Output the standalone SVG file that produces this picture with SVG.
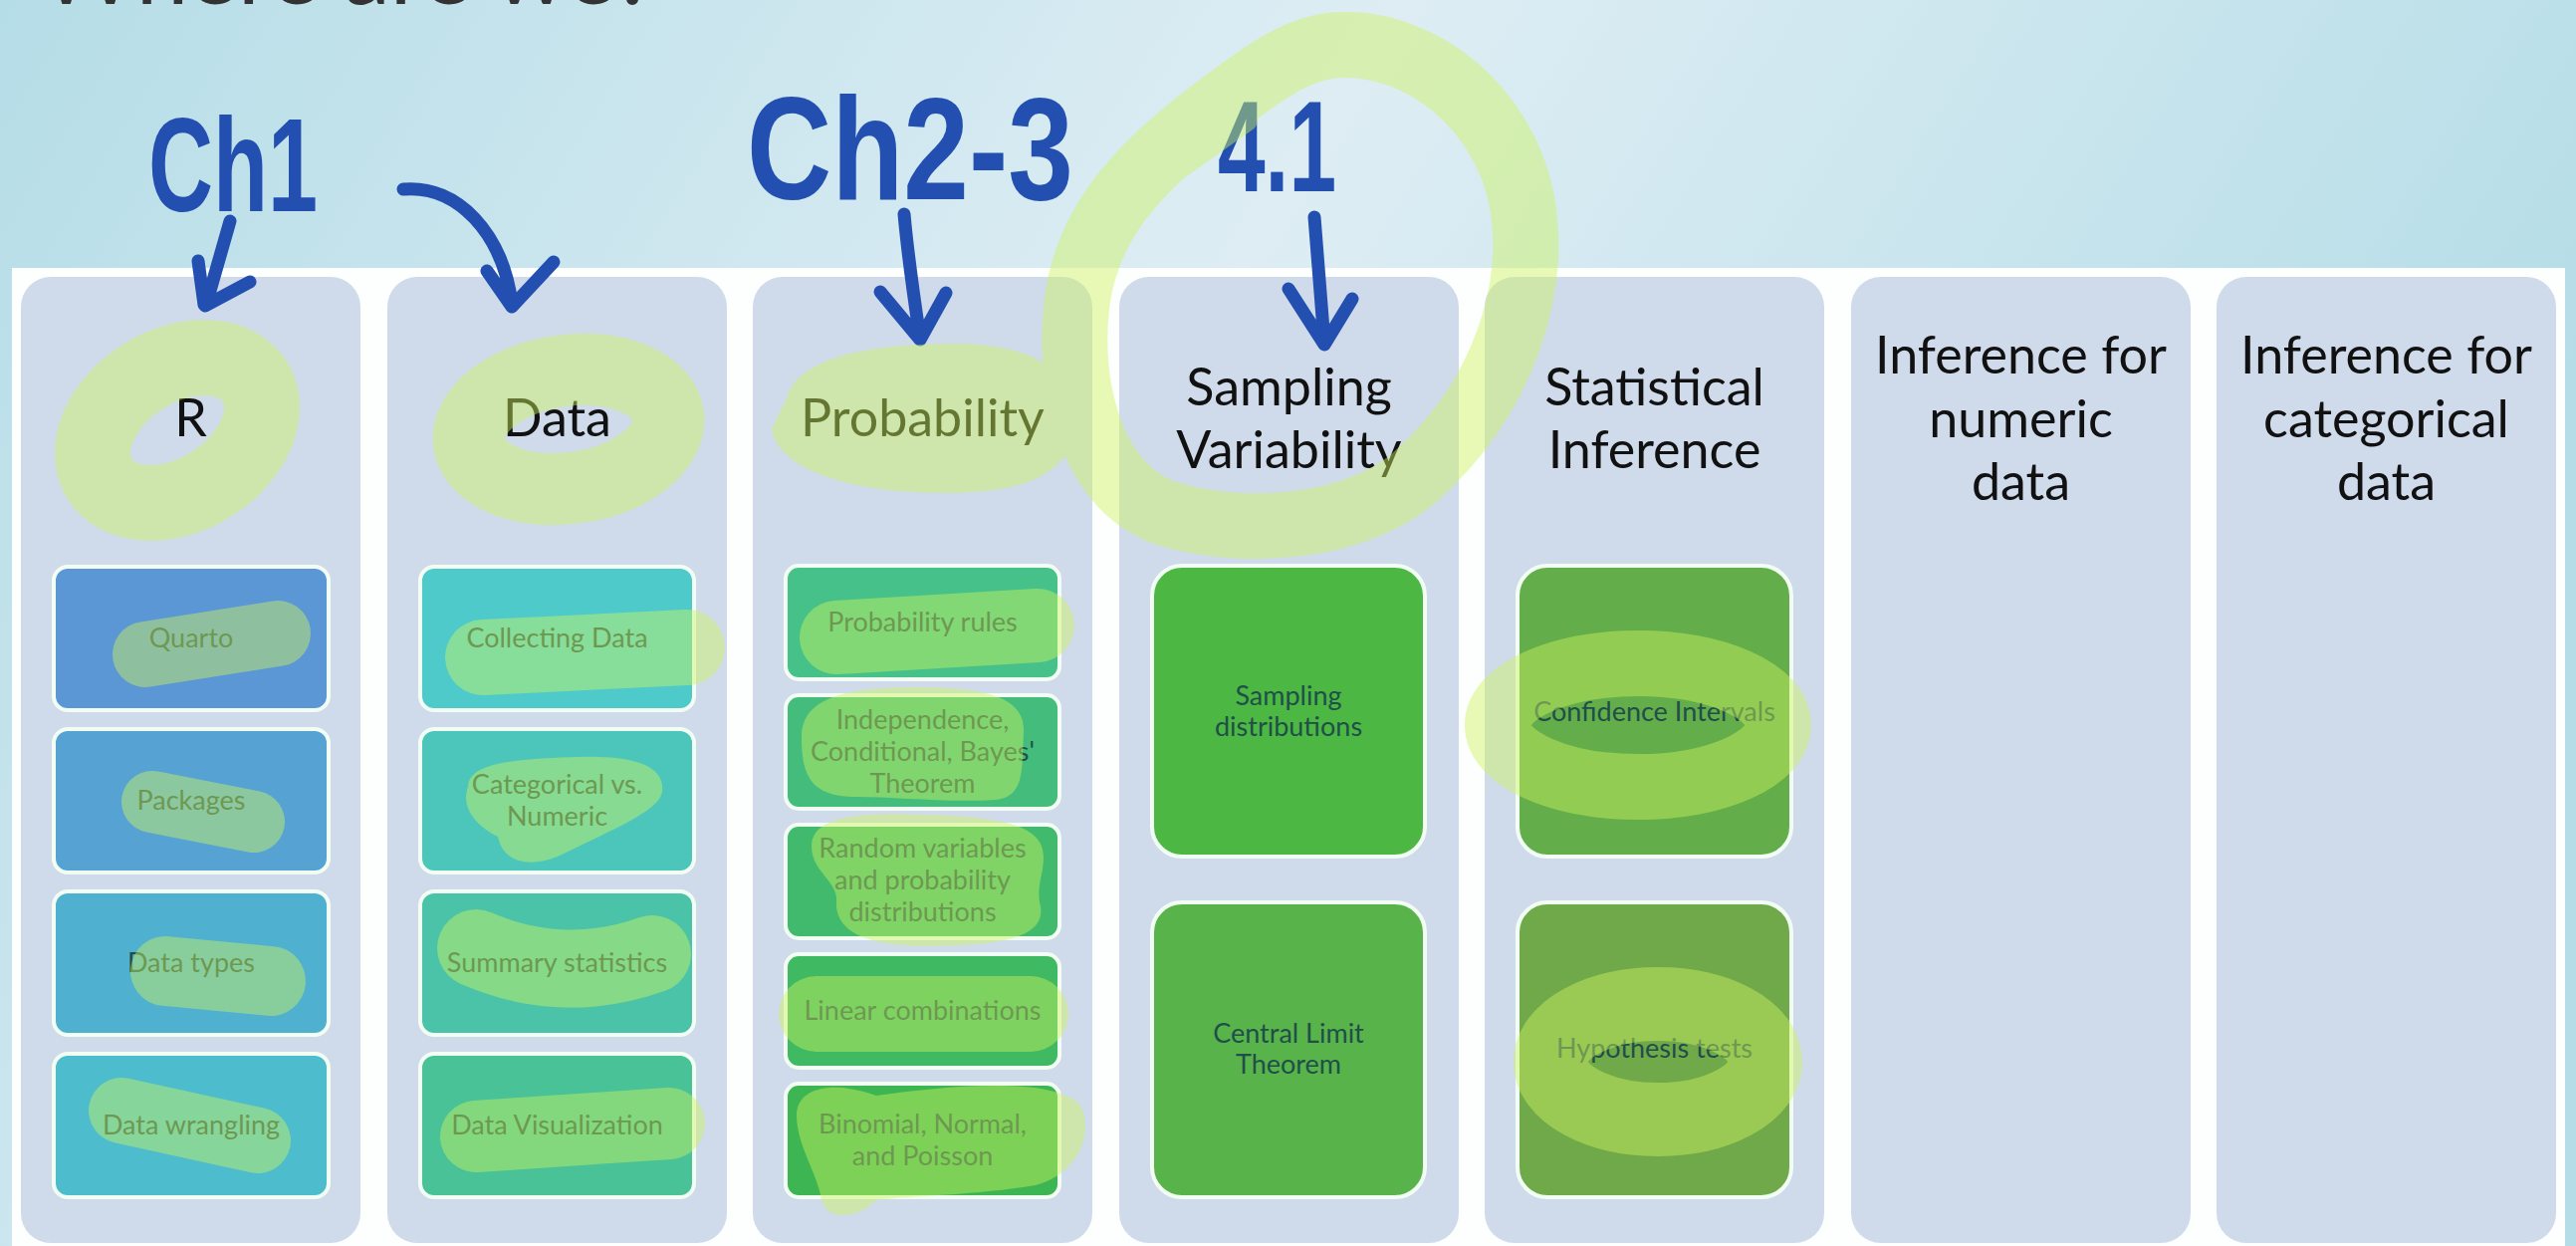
<svg xmlns="http://www.w3.org/2000/svg" width="2587" height="1251" viewBox="0 0 2587 1251">
  <defs>
    <linearGradient id="bg" x1="0" y1="0" x2="1" y2="0.3">
      <stop offset="0" stop-color="#b5dde7"/>
      <stop offset="0.5" stop-color="#deedf4"/>
      <stop offset="1" stop-color="#b5dde7"/>
    </linearGradient>
    <style>
      .col { fill: #cfdbeb; }
      .box { stroke: #f2fdf4; stroke-width: 4; }
      .head { font-family: Lato, "Open Sans", sans-serif; font-size: 52px; fill: #111; text-anchor: middle; }
      .lbl { font-family: Lato, "Open Sans", sans-serif; font-size: 27px; fill: #1f4f48; text-anchor: middle; }
      .pen { fill: none; stroke: #2350b0; stroke-width: 13; stroke-linecap: round; stroke-linejoin: round; }
      .hand { font-family: "Liberation Sans", Arial, sans-serif; font-weight: bold; fill: #2350b0; }
      .hl { fill: #cdf45f; }
      .hls { fill: none; stroke: #cdf45f; stroke-linecap: round; stroke-linejoin: round; }
    </style>
  </defs>

  <!-- slide background and cut-off title -->
  <rect x="0" y="0" width="2587" height="1251" fill="url(#bg)"/>
  <text x="40" y="4" font-family="Lato, 'Open Sans', sans-serif" font-size="94" fill="#333">Where are we?</text>

  <!-- white board holding the columns -->
  <rect x="12" y="269" width="2564" height="982" fill="#fdfefe"/>

  <!-- column: R -->
  <g id="col-r">
    <rect class="col" x="21" y="278" width="341" height="970" rx="30"/>
    <text class="head" x="191.5" y="438">R</text>
    <g id="box-quarto"><rect class="box" x="54" y="569" width="276" height="144" rx="14" fill="#5b97d5"/><text class="lbl" x="192" y="650">Quarto</text></g>
    <g id="box-packages"><rect class="box" x="54" y="732" width="276" height="144" rx="14" fill="#56a3d3"/><text class="lbl" x="192" y="813">Packages</text></g>
    <g id="box-datatypes"><rect class="box" x="54" y="895" width="276" height="144" rx="14" fill="#50b0d0"/><text class="lbl" x="192" y="976">Data types</text></g>
    <g id="box-wrangling"><rect class="box" x="54" y="1058" width="276" height="144" rx="14" fill="#4dbccd"/><text class="lbl" x="192" y="1139">Data wrangling</text></g>
  </g>

  <!-- column: Data -->
  <g id="col-data">
    <rect class="col" x="389" y="278" width="341" height="970" rx="30"/>
    <text class="head" x="559.5" y="438">Data</text>
    <g id="box-collecting"><rect class="box" x="422" y="569" width="275" height="144" rx="14" fill="#4ecaca"/><text class="lbl" x="559.5" y="650">Collecting Data</text></g>
    <g id="box-catnum"><rect class="box" x="422" y="732" width="275" height="144" rx="14" fill="#4cc6bb"/><text class="lbl" x="559.5" y="797">Categorical vs.</text><text class="lbl" x="559.5" y="829">Numeric</text></g>
    <g id="box-summary"><rect class="box" x="422" y="895" width="275" height="144" rx="14" fill="#4ac3a8"/><text class="lbl" x="559.5" y="976">Summary statistics</text></g>
    <g id="box-dataviz"><rect class="box" x="422" y="1058" width="275" height="144" rx="14" fill="#48c296"/><text class="lbl" x="559.5" y="1139">Data Visualization</text></g>
  </g>

  <!-- column: Probability -->
  <g id="col-probability">
    <rect class="col" x="756" y="278" width="341" height="970" rx="30"/>
    <text class="head" x="926.5" y="438">Probability</text>
    <g id="box-rules"><rect class="box" x="789" y="568" width="275" height="114" rx="13" fill="#46c189"/><text class="lbl" x="926.5" y="634">Probability rules</text></g>
    <g id="box-bayes"><rect class="box" x="789" y="698" width="275" height="114" rx="13" fill="#44bd7c"/><text class="lbl" x="926.5" y="732">Independence,</text><text class="lbl" x="926.5" y="764">Conditional, Bayes'</text><text class="lbl" x="926.5" y="796">Theorem</text></g>
    <g id="box-randvar"><rect class="box" x="789" y="828" width="275" height="114" rx="13" fill="#41ba6d"/><text class="lbl" x="926.5" y="861">Random variables</text><text class="lbl" x="926.5" y="893">and probability</text><text class="lbl" x="926.5" y="925">distributions</text></g>
    <g id="box-linear"><rect class="box" x="789" y="958" width="275" height="114" rx="13" fill="#3fb962"/><text class="lbl" x="926.5" y="1024">Linear combinations</text></g>
    <g id="box-binomial"><rect class="box" x="789" y="1088" width="275" height="114" rx="13" fill="#3db552"/><text class="lbl" x="926.5" y="1138">Binomial, Normal,</text><text class="lbl" x="926.5" y="1170">and Poisson</text></g>
  </g>

  <!-- column: Sampling Variability -->
  <g id="col-sampling">
    <rect class="col" x="1124" y="278" width="341" height="970" rx="30"/>
    <text class="head" x="1294.5" y="407">Sampling</text>
    <text class="head" x="1294.5" y="470">Variability</text>
    <g id="box-sampdist"><rect class="box" x="1157" y="568" width="274" height="292" rx="30" fill="#4cb843"/><text class="lbl" x="1294" y="708">Sampling</text><text class="lbl" x="1294" y="739">distributions</text></g>
    <g id="box-clt"><rect class="box" x="1157" y="906" width="274" height="296" rx="30" fill="#59b34b"/><text class="lbl" x="1294" y="1047">Central Limit</text><text class="lbl" x="1294" y="1078">Theorem</text></g>
  </g>

  <!-- column: Statistical Inference -->
  <g id="col-inference">
    <rect class="col" x="1491" y="278" width="341" height="970" rx="30"/>
    <text class="head" x="1661.5" y="407">Statistical</text>
    <text class="head" x="1661.5" y="470">Inference</text>
    <g id="box-ci"><rect class="box" x="1524" y="568" width="275" height="292" rx="30" fill="#63ad4a"/><text class="lbl" x="1661.5" y="724">Confidence Intervals</text></g>
    <g id="box-ht"><rect class="box" x="1524" y="906" width="275" height="296" rx="30" fill="#70a94a"/><text class="lbl" x="1661.5" y="1062">Hypothesis tests</text></g>
  </g>

  <!-- column: Inference for numeric data -->
  <g id="col-numeric">
    <rect class="col" x="1859" y="278" width="341" height="970" rx="30"/>
    <text class="head" x="2029.5" y="375">Inference for</text>
    <text class="head" x="2029.5" y="439">numeric</text>
    <text class="head" x="2029.5" y="502">data</text>
  </g>

  <!-- column: Inference for categorical data -->
  <g id="col-categorical">
    <rect class="col" x="2226" y="278" width="341" height="970" rx="30"/>
    <text class="head" x="2396.5" y="375">Inference for</text>
    <text class="head" x="2396.5" y="439">categorical</text>
    <text class="head" x="2396.5" y="502">data</text>
  </g>

  <!-- handwritten chapter labels -->
  <g id="chapter-labels">
    <text class="hand" x="149" y="212" font-size="133" textLength="170" lengthAdjust="spacingAndGlyphs">Ch1</text>
    <text class="hand" x="750" y="200" font-size="147" textLength="328" lengthAdjust="spacingAndGlyphs">Ch2-3</text>
    <text class="hand" x="1223" y="192" font-size="130" textLength="119" lengthAdjust="spacingAndGlyphs">4.1</text>
  </g>

  <!-- pen arrows from the chapter labels to the columns -->
  <g id="connectors">
    <path class="pen" d="M231,222 L207,306 M199,262 L205,306 M206,307 L251,283"/>
    <path class="pen" d="M405,190 C460,185 505,235 514,305 M489,272 L514,308 L556,263"/>
    <path class="pen" d="M908,215 C912,260 918,300 924,340 M884,293 L924,341 L950,294"/>
    <path class="pen" d="M1320,218 L1330,344 M1294,290 L1330,346 L1358,300"/>
  </g>

  <!-- highlighter marks -->
  <g id="highlights" opacity="0.45">
    <ellipse class="hls" cx="178" cy="432" rx="92" ry="64" stroke-width="76" transform="rotate(-32 178 432)"/>
    <ellipse class="hls" cx="571" cy="431" rx="101" ry="59" stroke-width="72" transform="rotate(-8 571 431)"/>
    <path class="hl" d="M790,400 C800,360 870,345 960,345 C1040,345 1080,375 1080,420 C1080,470 1040,495 950,495 C850,495 780,470 775,430 Z"/>
    <!-- loop round the sampling heading -->
    <path class="hls" stroke-width="66" d="M1345,45 C1430,42 1510,110 1528,200 C1545,290 1510,400 1420,480 C1360,530 1250,540 1170,515 C1100,490 1075,400 1080,320 C1085,230 1140,170 1220,110 C1260,80 1300,47 1345,45 Z"/>
    <path class="hls" stroke-width="26" d="M1165,180 L1250,120"/>
    <path class="hls" d="M146,657 L279,636" stroke-width="66"/>
    <path class="hls" d="M153,805 L255,825" stroke-width="62"/>
    <path class="hls" d="M166,975 L272,985" stroke-width="70"/>
    <path class="hls" d="M122,1115 L259,1145" stroke-width="66"/>
    <path class="hls" d="M485,660 L690,650" stroke-width="76"/>
    <path class="hl" d="M470,790 C470,765 520,762 580,760 C640,758 668,770 665,795 C662,815 610,835 560,860 C530,872 505,865 500,840 C480,830 462,812 470,790 Z"/>
    <path class="hls" d="M478,952 Q565,990 655,958" stroke-width="78"/>
    <path class="hls" d="M478,1141 L672,1128" stroke-width="72"/>
    <path class="hls" d="M840,640 L1042,628" stroke-width="74"/>
    <path class="hl" d="M805,740 C805,700 850,690 920,690 C990,690 1030,700 1028,735 C1026,770 1030,800 1000,803 C950,806 900,800 860,800 C815,800 805,780 805,740 Z"/>
    <path class="hl" d="M815,850 C815,820 860,815 930,818 C1010,820 1048,830 1048,860 C1048,880 1040,890 1045,910 C1050,940 1010,950 930,950 C870,950 838,935 840,905 C842,885 815,875 815,850 Z"/>
    <path class="hls" d="M820,1018 L1035,1018" stroke-width="76"/>
    <path class="hl" d="M800,1120 C800,1090 840,1085 880,1100 C950,1090 1060,1080 1085,1110 C1100,1140 1080,1180 1040,1190 C980,1200 920,1200 880,1205 C860,1225 830,1225 825,1205 C822,1180 800,1150 800,1120 Z"/>
    <ellipse class="hls" cx="1645" cy="728" rx="141" ry="62" stroke-width="66"/>
    <ellipse class="hls" cx="1665" cy="1066" rx="108" ry="58" stroke-width="74"/>
  </g>
</svg>
